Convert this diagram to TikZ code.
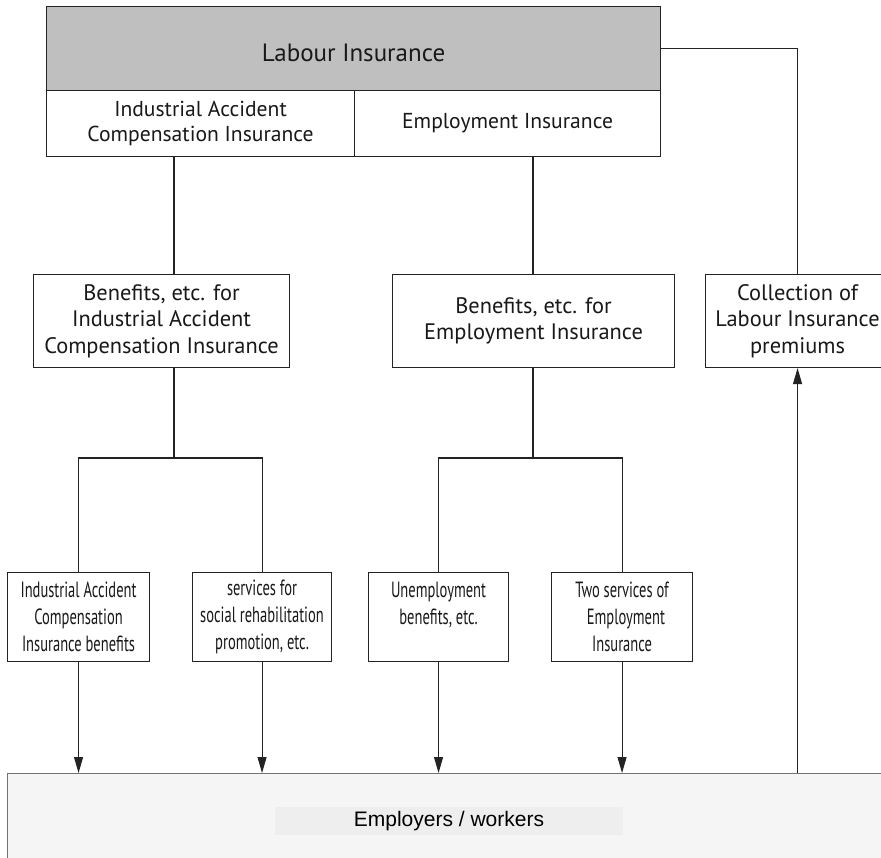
\documentclass[tikz,border=0pt]{standalone}
\usepackage{fontspec}
\setmainfont{PT Sans}
\newfontfamily\narrowfont[FakeStretch=0.66]{PT Sans}
\newfontfamily\arialfont{Liberation Sans}
\usetikzlibrary{arrows.meta}
\definecolor{linec}{RGB}{35,35,35}
\definecolor{empfill}{RGB}{245,245,245}
\definecolor{empbg}{RGB}{238,238,238}
\begin{document}
\begin{tikzpicture}[x=1pt,y=-1pt,
  box/.style={draw=linec, line width=1.1pt, fill=white, inner sep=0pt, align=center, anchor=north west, text=black!90},
  toptext/.style={font=\fontsize{25}{29}\selectfont},
  bigtext/.style={font=\fontsize{22.4}{26.5}\selectfont},
  midtext/.style={font=\fontsize{21.6}{25}\selectfont},
  leaftext/.style={font=\narrowfont\fontsize{22}{27}\selectfont},
  conn/.style={draw=linec, line width=1.1pt},
  arr/.style={conn, -{Triangle[width=9pt,length=16pt]}}
]
\useasboundingbox (0,0) rectangle (881,858);
\fill[white] (0,0) rectangle (881,858);

% bottom box
\node[box, draw=black!55, fill=empfill, minimum width=890, minimum height=100] (emp) at (7,773) {};
\node[fill=empbg, inner sep=0pt, minimum width=348, minimum height=28, font=\arialfont\fontsize{21}{24}\selectfont] (empt) at (449,821) {Employers / workers};

% top
\node[box, fill=black!25, minimum width=614, minimum height=84, toptext, text height=26pt, text depth=0pt] (li) at (46,6) {Labour Insurance};
\node[box, minimum width=308, minimum height=66, midtext] (iaci) at (46,90) {Industrial Accident\\Compensation Insurance};
\node[box, minimum width=306, minimum height=66, midtext] (ei) at (354,90) {Employment Insurance};

% second row
\node[box, minimum width=256, minimum height=93, bigtext] (bi) at (33,274) {Benefits, etc. for\\Industrial Accident\\Compensation Insurance};
\node[box, minimum width=282, minimum height=93, bigtext] (be) at (392,274) {Benefits, etc. for\\Employment Insurance};
\node[box, minimum width=184, minimum height=93, bigtext] (col) at (705,274) {Collection of\\Labour Insurance\\premiums};

% leaves
\node[box, minimum width=142, minimum height=89, leaftext] (l1) at (7,572) {Industrial Accident\\Compensation\\Insurance benefits};
\node[box, minimum width=139, minimum height=89, leaftext] (l2) at (192,572) {services for\\social rehabilitation\\promotion, etc.};
\node[box, minimum width=140, minimum height=89, leaftext] (l3) at (368,572) {Unemployment\\benefits, etc.\\\phantom{Insurance}};
\node[box, minimum width=141, minimum height=89, leaftext] (l4) at (551,572) {Two services of\\\ \ Employment\\Insurance};

% junction coordinates
\coordinate (x1) at (174,0);
\coordinate (x2) at (533,0);
\coordinate (j1) at (174,458);
\coordinate (j2) at (533,458);

% connectors top
\draw[conn] (li.east) -- (li.east -| col.north) -- (col.north);
\draw[conn] (x1 |- iaci.south) -- (x1 |- bi.north);
\draw[conn] (x2 |- ei.south) -- (x2 |- be.north);
\draw[conn] (x1 |- bi.south) -- (j1);
\draw[conn] (x2 |- be.south) -- (j2);
\draw[conn] (l1.north) -- (l1.north |- j1) -- (l2.north |- j1) -- (l2.north);
\draw[conn] (l3.north) -- (l3.north |- j2) -- (l4.north |- j2) -- (l4.north);

% arrows down
\draw[arr] (l1.south) -- (l1.south |- emp.north);
\draw[arr] (l2.south) -- (l2.south |- emp.north);
\draw[arr] (l3.south) -- (l3.south |- emp.north);
\draw[arr] (l4.south) -- (l4.south |- emp.north);
\draw[arr] (col.south |- emp.north) -- (col.south);
\end{tikzpicture}
\end{document}
